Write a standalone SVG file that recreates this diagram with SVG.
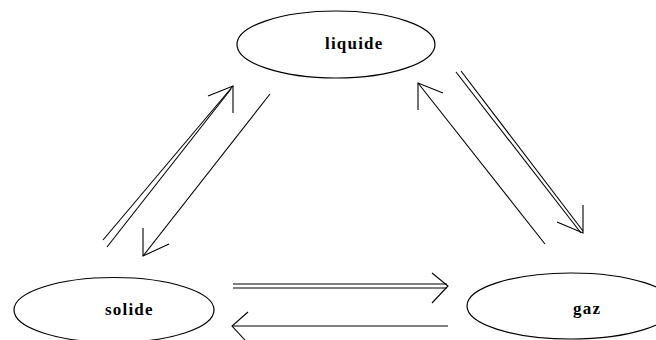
<svg xmlns="http://www.w3.org/2000/svg" width="656" height="340" viewBox="0 0 656 340">
  <style>
    .state ellipse { fill: #fff; stroke: #000; stroke-width: 1.2; }
    .state text { font-family: "Liberation Serif", "Times New Roman", serif; font-weight: bold; font-size: 17px; letter-spacing: 1.2px; fill: #000; }
    #connectors line, #connectors polyline { stroke: #000; stroke-width: 1.1; fill: none; }
  </style>
  <rect width="656" height="340" fill="#fff"/>

  <g id="liquide" class="state">
    <ellipse cx="336" cy="44.5" rx="99" ry="33.5"/>
    <text x="325" y="49">liquide</text>
  </g>
  <g id="solide" class="state">
    <ellipse cx="114" cy="310" rx="100" ry="32.5"/>
    <text x="105" y="315">solide</text>
  </g>
  <g id="gaz" class="state">
    <ellipse cx="571" cy="306" rx="104" ry="33"/>
    <text x="573" y="314">gaz</text>
  </g>

  <g id="connectors">
    <!-- solide -> liquide (double shaft) -->
    <line x1="103" y1="240" x2="233" y2="86"/>
    <line x1="107" y1="247" x2="231" y2="89"/>
    <polyline points="208,96 233,86 233,113"/>
    <!-- liquide -> solide -->
    <line x1="270" y1="94" x2="143" y2="256"/>
    <polyline points="143,228 143,256 169,244"/>
    <!-- gaz -> liquide -->
    <line x1="545" y1="244" x2="418" y2="83"/>
    <polyline points="418,110 418,83 443,93"/>
    <!-- liquide -> gaz (double shaft) -->
    <line x1="456" y1="72" x2="581" y2="233"/>
    <line x1="461" y1="71" x2="583" y2="231"/>
    <polyline points="557,222 583,233 583,205"/>
    <!-- solide -> gaz (double shaft) -->
    <line x1="233" y1="284" x2="447" y2="284"/>
    <line x1="233" y1="288" x2="447" y2="288"/>
    <polyline points="432,273 448,286 432,303"/>
    <!-- gaz -> solide -->
    <line x1="448" y1="326" x2="232" y2="326"/>
    <polyline points="248,312 232,326 245,340"/>
  </g>
</svg>
